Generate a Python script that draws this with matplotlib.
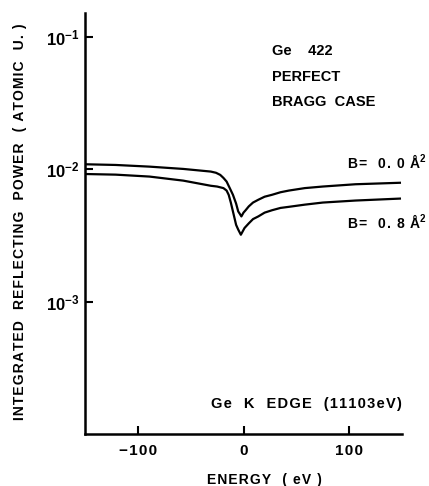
import matplotlib
matplotlib.use("Agg")
import matplotlib.pyplot as plt

energy_b00 = [-150, -121, -89, -57, -31, -26, -22, -19, -16, -13, -10, -7, -5, -3.5, -2,
              0, 2, 5, 9, 14, 20, 27, 35, 43, 58, 75, 106, 148]
power_b00 = [0.0109, 0.01077, 0.01046, 0.01005, 0.0096, 0.0094, 0.00906, 0.0086, 0.00807, 0.0072, 0.00641,
             0.0055, 0.0048, 0.0046, 0.0044,
             0.0047, 0.0049, 0.00524, 0.0056, 0.00588, 0.0062, 0.00641, 0.0067, 0.0069, 0.0072, 0.0074, 0.0077, 0.0079]
energy_b08 = [-150, -121, -89, -57, -31, -25, -22, -19, -16, -14, -12, -10, -7, -5, -2.5,
              1, 5, 9, 14, 20, 27, 35, 43, 58, 75, 106, 148]
power_b08 = [0.0092, 0.0091, 0.0088, 0.0082, 0.0075, 0.0074, 0.0073, 0.0072, 0.0069, 0.0064, 0.0056, 0.0048,
             0.0038, 0.0035, 0.0032,
             0.0036, 0.0039, 0.0042, 0.0044, 0.0047, 0.0049, 0.0051, 0.0052, 0.0054, 0.0056, 0.0058, 0.0060]
xticks = [-100, 0, 100]
xtick_labels = ['\u2212100', '0', '100']
yticks = [1e-3, 1e-2, 1e-1]
ytick_labels = [r"$10^{-3}$", r"$10^{-2}$", r"$10^{-1}$"]


def spaced(s):
    return '\u200a'.join(s)


plt.rcParams['font.family'] = ['Liberation Sans', 'DejaVu Sans']
plt.rcParams['font.weight'] = 'bold'
plt.rcParams['mathtext.fontset'] = 'custom'
plt.rcParams['mathtext.rm'] = 'Liberation Sans:bold'
plt.rcParams['mathtext.it'] = 'Liberation Sans:bold'
plt.rcParams['mathtext.bf'] = 'Liberation Sans:bold'
plt.rcParams['mathtext.default'] = 'rm'

fig = plt.figure(figsize=(4.29, 4.86), dpi=100)
ax = fig.add_axes([85/429, 1-434/486, (402-85)/429, (434-13)/486])

ax.plot(energy_b00, power_b00, color='black', lw=1.6, solid_joinstyle='round')
ax.plot(energy_b08, power_b08, color='black', lw=1.6, solid_joinstyle='round')

ax.set_yscale('log')
ax.set_xlim(-150, 150)
ax.set_ylim(1e-4, 10**(-0.82))
ax.set_xticks(xticks)
ax.set_xticklabels([spaced(t) for t in xtick_labels], fontsize=11)
ax.set_yticks(yticks)
ax.set_yticklabels(ytick_labels, fontsize=12)
ax.minorticks_off()
ax.tick_params(direction='in', length=6, width=1.5)
ax.tick_params(axis='x', pad=7)
ax.tick_params(axis='y', pad=4)
for s in ['top', 'right']:
    ax.spines[s].set_visible(False)
for s in ['left', 'bottom']:
    ax.spines[s].set_linewidth(1.8)

fs = 10.5
fig.text(264/429, 1-480/486, spaced("ENERGY  ( eV )"), ha='center', va='center', fontsize=10)
fig.text(20/429, 1-222/486, spaced("INTEGRATED  REFLECTING  POWER  ( ATOMIC  U. )"), rotation=90,
         ha='center', va='center', fontsize=10)

fig.text(272/429, 1-51/486, "Ge    422", ha='left', va='center', fontsize=fs)
fig.text(272/429, 1-77/486, "PERFECT", ha='left', va='center', fontsize=fs)
fig.text(272/429, 1-102/486, "BRAGG  CASE", ha='left', va='center', fontsize=fs)
fig.text(347/429, 1-162/486, spaced("B=  0. 0 ") + "\u00c5$^{2}$", ha='left', va='center', fontsize=10)
fig.text(347/429, 1-222/486, spaced("B=  0. 8 ") + "\u00c5$^{2}$", ha='left', va='center', fontsize=10)
fig.text(402/429, 1-404/486, spaced("Ge  K  EDGE  (11103eV)"), ha='right', va='center', fontsize=fs)

fig.savefig("out.png", dpi=100)
